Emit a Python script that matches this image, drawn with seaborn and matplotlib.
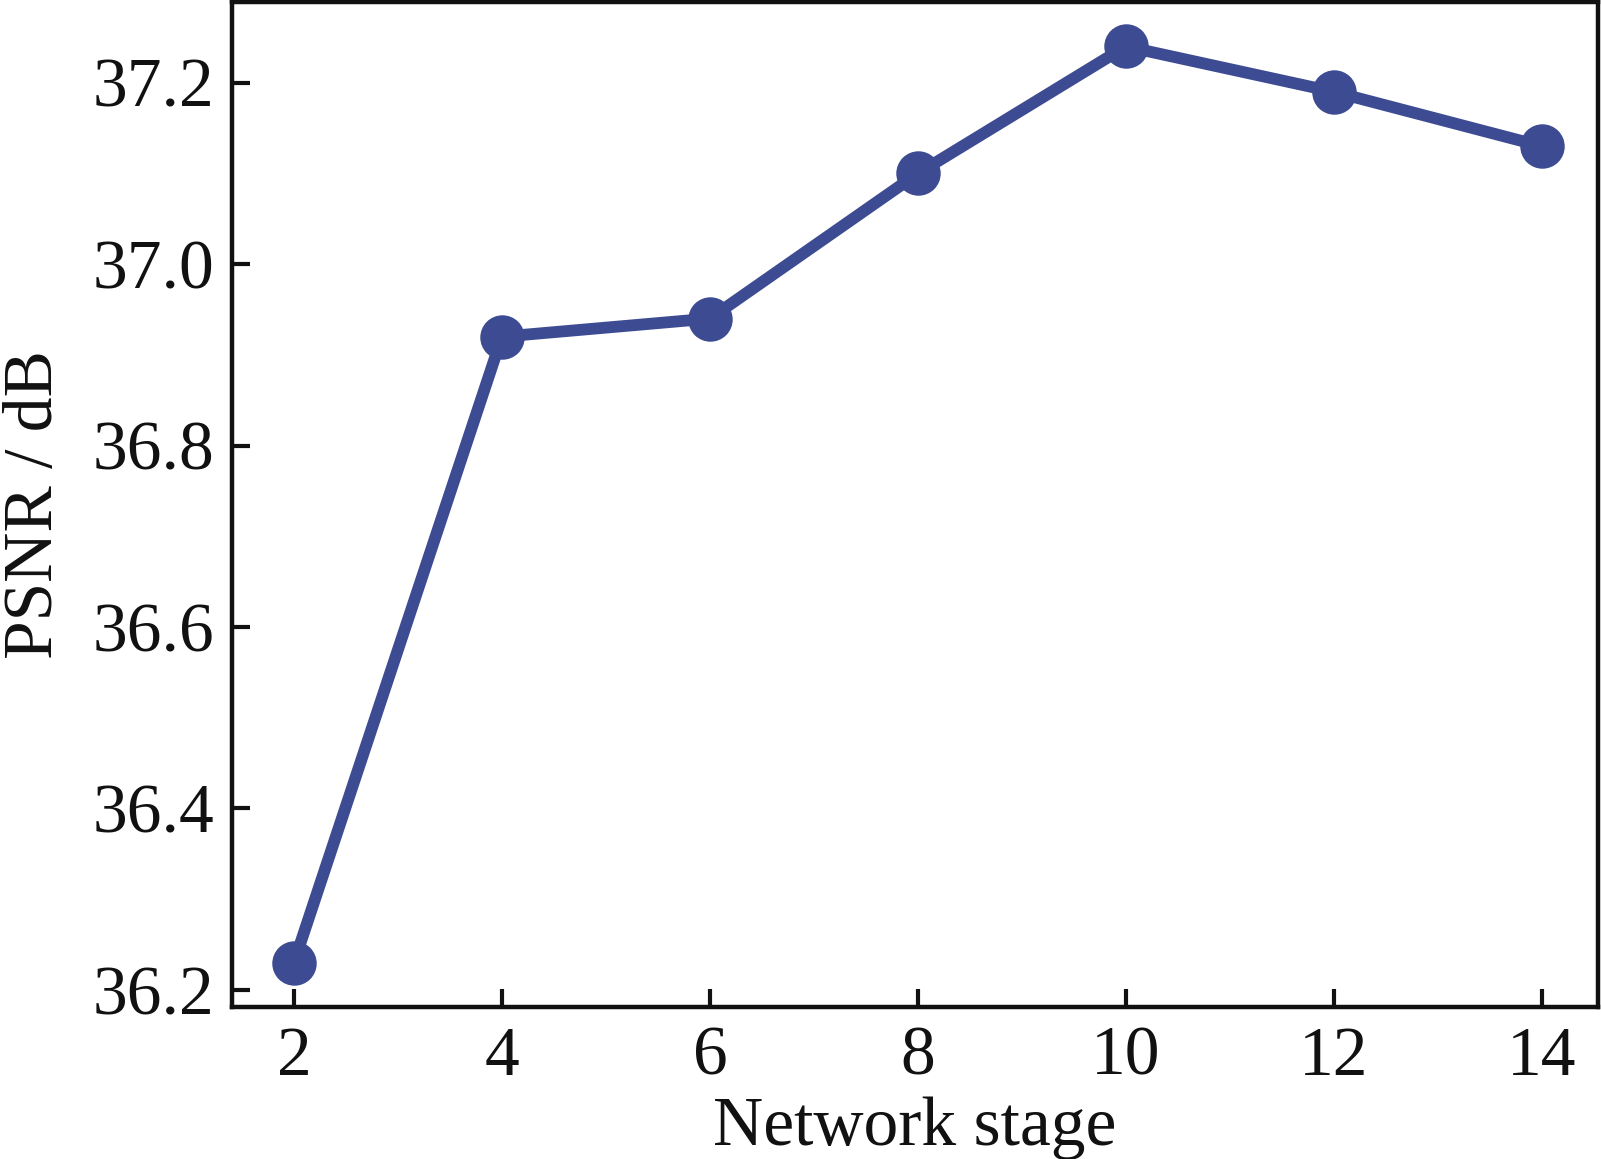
import pandas as pd
import matplotlib
matplotlib.use("Agg")
import matplotlib.pyplot as plt
import seaborn as sns

# Datos
stages = [2, 4, 6, 8, 10, 12, 14]
psnr = [36.23, 36.92, 36.94, 37.10, 37.24, 37.19, 37.13]
y_ticks = [36.2, 36.4, 36.6, 36.8, 37.0, 37.2]
x_ticks = [2, 4, 6, 8, 10, 12, 14]

df = pd.DataFrame({"stage": stages, "psnr": psnr})

sns.set_style("ticks")
plt.rcParams['font.family'] = ['Liberation Serif', 'DejaVu Serif']

fig = plt.figure(figsize=(16.01, 11.59), dpi=100)
ax = fig.add_axes([232 / 1601, 1 - 1007 / 1159, (1598 - 232) / 1601, (1007 - 2) / 1159])

color = "#3d4c92"
sns.lineplot(data=df, x="stage", y="psnr", ax=ax, color=color,
             linewidth=8.5, marker="o", markersize=32, markeredgewidth=0,
             markerfacecolor=color)

ax.set_xlim(1.404, 14.54)
ax.set_ylim(36.181, 37.289)
ax.set_xticks(x_ticks)
ax.set_yticks(y_ticks)
ax.set_yticklabels([f"{v:.1f}" for v in y_ticks])

for s in ax.spines.values():
    s.set_visible(True)
    s.set_linewidth(3.2)
    s.set_color("#111111")

ax.tick_params(axis='both', direction='in', length=13, width=3, color="#111111",
               labelsize=50, labelcolor="#111111")
ax.tick_params(axis='x', pad=14)
ax.tick_params(axis='y', pad=13)

ax.set_xlabel("Network stage", fontsize=50, color="#111111", labelpad=5)
ax.set_ylabel("PSNR / dB", fontsize=50, color="#111111", labelpad=18)

plt.savefig("out.png", dpi=100)
plt.close()
